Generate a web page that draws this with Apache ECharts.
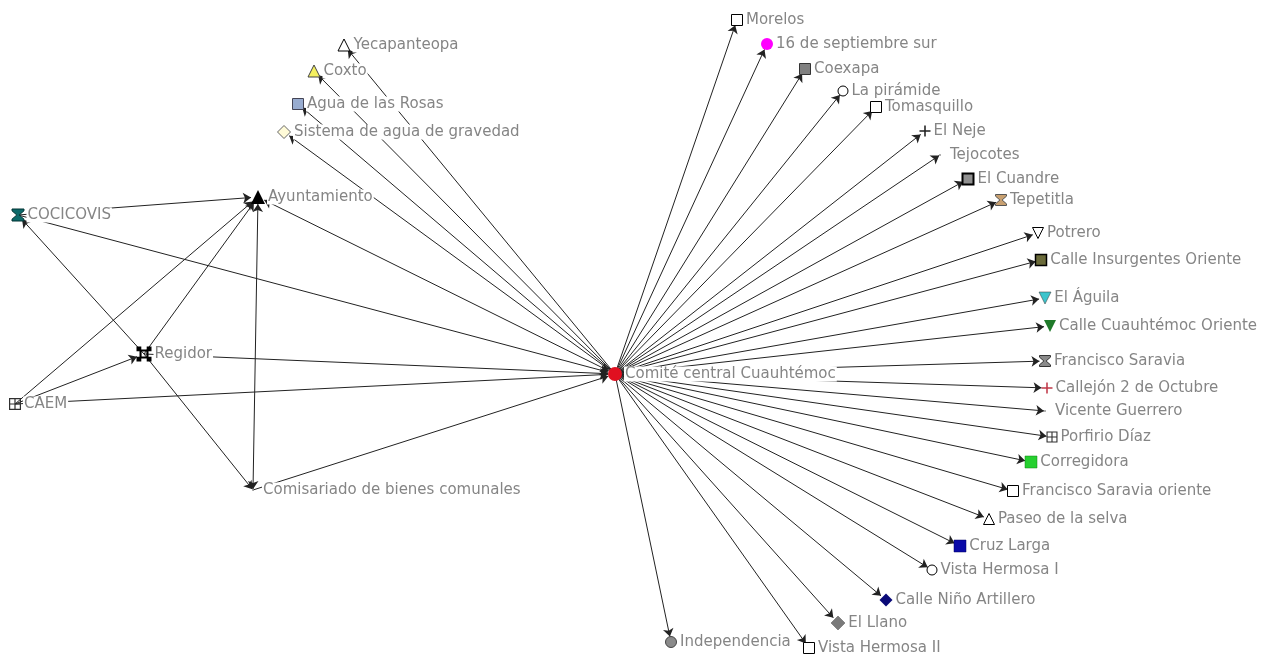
<!DOCTYPE html>
<html>
<head>
<meta charset="utf-8">
<script src="https://cdn.jsdelivr.net/npm/echarts@6/dist/echarts.min.js"></script>
<style>html,body{margin:0;padding:0;background:#fff;}#c{width:1265px;height:658px;}</style>
</head>
<body>
<div id="c"></div>
<script>
// ---- data ----
const nodeNames = [
  'Comité central Cuauhtémoc','Morelos','16 de septiembre sur','Coexapa','La pirámide','Tomasquillo',
  'El Neje','Tejocotes','El Cuandre','Tepetitla','Potrero','Calle Insurgentes Oriente','El Águila',
  'Calle Cuauhtémoc Oriente','Francisco Saravia','Callejón 2 de Octubre','Vicente Guerrero','Porfirio Díaz',
  'Corregidora','Francisco Saravia oriente','Paseo de la selva','Cruz Larga','Vista Hermosa I',
  'Calle Niño Artillero','El Llano','Vista Hermosa II','Independencia','Ayuntamiento','COCICOVIS',
  'Regidor','CAEM','Comisariado de bienes comunales','Sistema de agua de gravedad','Agua de las Rosas',
  'Coxto','Yecapanteopa'
];
const nodeX = [615,737,767,805,843,876,925,940,968,1001,1038,1041,1045,1050,1045,1047,1045,1052,1031,1013,989,960,932,886,838,809,671,258,18,144,15,253,284,298,314,344];
const nodeY = [374,20,44,69,91,107,131,155,179,200,233,260,298,326,361,388,411,437,462,491,519,546,570,600,623,648,642,197,215,354,404,490,132,104,71,45];

const linkSources = [
  'Comité central Cuauhtémoc','Comité central Cuauhtémoc','Comité central Cuauhtémoc','Comité central Cuauhtémoc',
  'Comité central Cuauhtémoc','Comité central Cuauhtémoc','Comité central Cuauhtémoc','Comité central Cuauhtémoc',
  'Comité central Cuauhtémoc','Comité central Cuauhtémoc','Comité central Cuauhtémoc','Comité central Cuauhtémoc',
  'Comité central Cuauhtémoc','Comité central Cuauhtémoc','Comité central Cuauhtémoc','Comité central Cuauhtémoc',
  'Comité central Cuauhtémoc','Comité central Cuauhtémoc','Comité central Cuauhtémoc','Comité central Cuauhtémoc',
  'Comité central Cuauhtémoc','Comité central Cuauhtémoc','Comité central Cuauhtémoc','Comité central Cuauhtémoc',
  'Comité central Cuauhtémoc','Comité central Cuauhtémoc','Comité central Cuauhtémoc','Comité central Cuauhtémoc',
  'Comité central Cuauhtémoc','Comité central Cuauhtémoc',
  'COCICOVIS','COCICOVIS','Regidor','Regidor','Regidor','Regidor','CAEM','CAEM','CAEM',
  'Ayuntamiento','Comisariado de bienes comunales'
];
const linkTargets = [
  'Morelos','16 de septiembre sur','Coexapa','La pirámide','Tomasquillo','El Neje','Tejocotes','El Cuandre',
  'Tepetitla','Potrero','Calle Insurgentes Oriente','El Águila','Calle Cuauhtémoc Oriente','Francisco Saravia',
  'Callejón 2 de Octubre','Vicente Guerrero','Porfirio Díaz','Corregidora','Francisco Saravia oriente',
  'Paseo de la selva','Cruz Larga','Vista Hermosa I','Calle Niño Artillero','El Llano','Vista Hermosa II',
  'Independencia','Sistema de agua de gravedad','Agua de las Rosas','Coxto','Yecapanteopa',
  'Ayuntamiento','Comité central Cuauhtémoc','COCICOVIS','Ayuntamiento','Comisariado de bienes comunales',
  'Comité central Cuauhtémoc','Ayuntamiento','Regidor','Comité central Cuauhtémoc',
  'Comité central Cuauhtémoc','Comité central Cuauhtémoc'
];
const bothWays = ['Ayuntamiento|Comité central Cuauhtémoc'];
const extraBoth = [['Ayuntamiento','Comisariado de bienes comunales']];

// ---- styles (kept separate from data) ----
const P = {
  plus: 'path://M4.3,0h1.4v4.3h4.3v1.4h-4.3v4.3h-1.4v-4.3h-4.3v-1.4h4.3z',
  hour: 'path://M0,0h10v1.5l-4,3.5l4,3.5v1.5h-10v-1.5l4,-3.5l-4,-3.5z',
  regidor: 'path://M0,0h3.2v2h3.6v-2h3.2v3.2h-2v3.6h2v3.2h-3.2v-2h-3.6v2h-3.2v-3.2h2v-3.6h-2z M3.4,3.4v3.2h3.2v-3.2z',
  grid: 'path://M0,0h10v10h-10z M1,1v3.5h3.5v-3.5z M5.5,1v3.5h3.5v-3.5z M1,5.5v3.5h3.5v-3.5z M5.5,5.5v3.5h3.5v-3.5z'
};
const W = '#ffffff', K = '#000000';
const st = {
  'Comité central Cuauhtémoc': {s:'circle', size:14, c:'#e01020', b:'#000', bw:0},
  'Morelos': {s:'rect', size:11, c:W, b:K, bw:1},
  '16 de septiembre sur': {s:'circle', size:12, c:'#ff00ff', b:'#ff00ff', bw:0},
  'Coexapa': {s:'rect', size:11, c:'#808080', b:'#333', bw:1},
  'La pirámide': {s:'circle', size:10, c:W, b:K, bw:1},
  'Tomasquillo': {s:'rect', size:11, c:W, b:K, bw:1},
  'El Neje': {s:P.plus, size:11, c:'#202020', b:K, bw:0},
  'Tejocotes': {s:'circle', size:2, c:'#999', b:K, bw:0},
  'El Cuandre': {s:'rect', size:11, c:'#909090', b:K, bw:2},
  'Tepetitla': {s:P.hour, size:11, c:'#c8a070', b:'#555', bw:1},
  'Potrero': {s:'triangle', size:11, c:W, b:K, bw:1, rot:180},
  'Calle Insurgentes Oriente': {s:'rect', size:11, c:'#6b6b3a', b:K, bw:1.5},
  'El Águila': {s:'triangle', size:12, c:'#3cc4cc', b:'#333', bw:0.5, rot:180},
  'Calle Cuauhtémoc Oriente': {s:'triangle', size:12, c:'#1f7a2a', b:'#1f7a2a', bw:0, rot:180},
  'Francisco Saravia': {s:P.hour, size:11, c:'#8a8a8a', b:'#333', bw:1},
  'Callejón 2 de Octubre': {s:P.plus, size:11, c:'#c03848', b:K, bw:0},
  'Vicente Guerrero': {s:'circle', size:2, c:'#999', b:K, bw:0},
  'Porfirio Díaz': {s:P.grid, size:11, c:'#303030', b:K, bw:0},
  'Corregidora': {s:'rect', size:12, c:'#26d030', b:'#108010', bw:0.5},
  'Francisco Saravia oriente': {s:'rect', size:11, c:W, b:K, bw:1},
  'Paseo de la selva': {s:'triangle', size:11, c:W, b:K, bw:1},
  'Cruz Larga': {s:'rect', size:12, c:'#0a0aa8', b:'#000060', bw:0.5},
  'Vista Hermosa I': {s:'circle', size:10, c:W, b:K, bw:1},
  'Calle Niño Artillero': {s:'diamond', size:13, c:'#0a0a78', b:'#0a0a78', bw:0},
  'El Llano': {s:'diamond', size:14, c:'#7a7a7a', b:'#555', bw:0.5},
  'Vista Hermosa II': {s:'rect', size:11, c:W, b:K, bw:1},
  'Independencia': {s:'circle', size:11, c:'#8a8a8a', b:'#444', bw:1},
  'Ayuntamiento': {s:'triangle', size:14, c:K, b:K, bw:0},
  'COCICOVIS': {s:P.hour, size:12, c:'#0c6a6a', b:'#033', bw:1},
  'Regidor': {s:P.regidor, size:15, c:K, b:K, bw:0},
  'CAEM': {s:P.grid, size:12, c:'#303030', b:K, bw:0},
  'Comisariado de bienes comunales': {s:'circle', size:2, c:'#999', b:K, bw:0},
  'Sistema de agua de gravedad': {s:'diamond', size:13, c:'#fffbd8', b:'#666', bw:1},
  'Agua de las Rosas': {s:'rect', size:11, c:'#98acd0', b:'#445', bw:1},
  'Coxto': {s:'triangle', size:12, c:'#f4f060', b:'#444', bw:1},
  'Yecapanteopa': {s:'triangle', size:12, c:W, b:K, bw:1}
};

const nodes = nodeNames.map((n, i) => {
  const s = st[n];
  return {
    name: n,
    value: [nodeX[i], nodeY[i]],
    symbol: s.s,
    symbolSize: s.size,
    symbolRotate: s.rot || 0,
    itemStyle: {color: s.c, borderColor: s.b, borderWidth: s.bw},
    label: {distance: s.size <= 3 ? 8 : 2}
  };
});

const links = linkSources.map((src, i) => {
  const tgt = linkTargets[i];
  const both = bothWays.indexOf(src + '|' + tgt) >= 0;
  return {source: src, target: tgt, symbol: [both ? 'arrow' : 'none', 'arrow']};
});
extraBoth.forEach(p => links.push({source: p[0], target: p[1], symbol: ['arrow', 'arrow']}));

const chart = echarts.init(document.getElementById('c'), null, {renderer: 'canvas'});
chart.setOption({
  animation: false,
  backgroundColor: '#ffffff',
  grid: {left: 0, right: 0, top: 0, bottom: 0},
  xAxis: {type: 'value', min: 0, max: 1265, show: false},
  yAxis: {type: 'value', min: 0, max: 658, inverse: true, show: false},
  series: [{
    type: 'graph',
    coordinateSystem: 'cartesian2d',
    layout: 'none',
    data: nodes,
    links: links,
    edgeSymbol: ['none', 'arrow'],
    edgeSymbolSize: 8,
    lineStyle: {color: '#222222', width: 1, opacity: 1, curveness: 0},
    label: {
      show: true,
      position: 'right',
      color: '#858585',
      fontFamily: 'DejaVu Sans',
      fontSize: 15,
      backgroundColor: '#ffffff',
      padding: [0, 1, 0, 1]
    },
    emphasis: {disabled: true}
  }]
});
</script>
</body>
</html>
